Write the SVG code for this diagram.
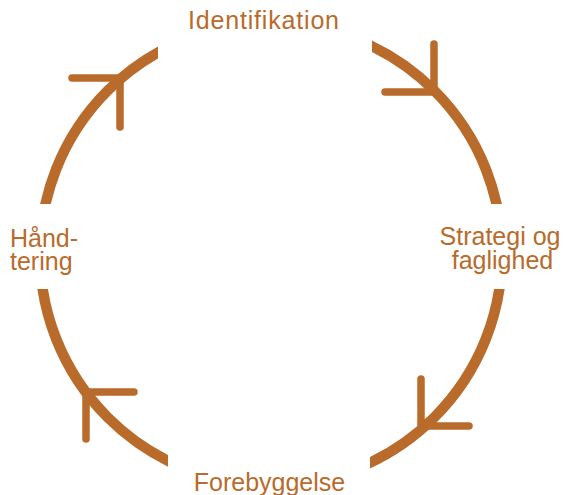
<svg xmlns="http://www.w3.org/2000/svg" width="565" height="495" viewBox="0 0 565 495">
<style>
.arc{fill:none;stroke:#B86B2B;stroke-width:10.5;stroke-linecap:butt}
.head{fill:none;stroke:#B86B2B;stroke-width:7.5;stroke-linecap:round;stroke-linejoin:miter}
.lbl{font-family:"Liberation Sans",Arial,sans-serif;font-size:25px;fill:#B86B2B}
</style>
<defs>
<clipPath id="cTL"><rect x="0" y="0" width="158" height="204"/></clipPath>
<clipPath id="cTR"><rect x="372" y="0" width="193" height="204"/></clipPath>
<clipPath id="cBR"><rect x="370" y="289" width="195" height="206"/></clipPath>
<clipPath id="cBL"><rect x="0" y="289" width="168" height="206"/></clipPath>
</defs>
<rect width="565" height="495" fill="#FFFFFF"/>
<g id="connectors">
<path class="arc" clip-path="url(#cTL)" d="M 40 254 A 231 231 0 0 1 271 23"/>
<path class="arc" clip-path="url(#cTR)" d="M 271 23 A 231 231 0 0 1 502 254"/>
<path class="arc" clip-path="url(#cBR)" d="M 502 254 A 231 231 0 0 1 271 485"/>
<path class="arc" clip-path="url(#cBL)" d="M 271 485 A 231 231 0 0 1 40 254"/>
<path class="head" d="M 72 78 L 120 78 L 120 127"/>
<path class="head" d="M 434 44 L 434 92 L 385 92"/>
<path class="head" d="M 421 379 L 421 426 L 469 426"/>
<path class="head" d="M 134 392 L 86 392 L 86 439"/>
</g>
<g id="identifikation"><text class="lbl" x="188" y="29" textLength="151" lengthAdjust="spacing">Identifikation</text></g>
<g id="strategi"><text class="lbl" text-anchor="middle"><tspan x="500" y="244.5">Strategi og</tspan><tspan x="502.5" y="268.5">faglighed</tspan></text></g>
<g id="forebyggelse"><text class="lbl" x="269.5" y="490.5" text-anchor="middle">Forebyggelse</text></g>
<g id="handtering"><text class="lbl"><tspan x="10" y="246.5">Hånd-</tspan><tspan x="10" y="270">tering</tspan></text></g>
</svg>
